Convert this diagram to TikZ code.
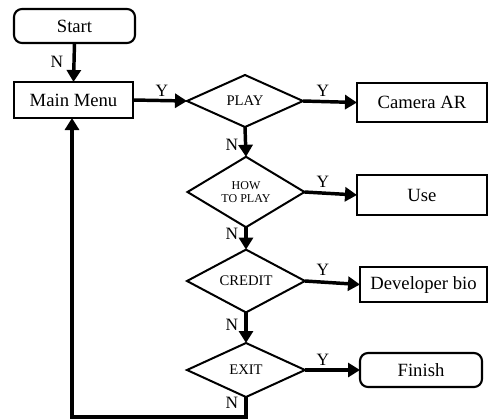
\documentclass[tikz,border=0pt]{standalone}
\usepackage{fontspec}
\setmainfont{Liberation Serif}
\usetikzlibrary{shapes.geometric,arrows.meta}
\begin{document}
\begin{tikzpicture}[x=0.75pt,y=-0.75pt,
  box/.style={draw,line width=1.6pt,inner sep=0pt,outer sep=0pt,font=\fontsize{14}{16}\selectfont},
  roundbox/.style={box,rounded corners=6pt},
  decision/.style={draw,diamond,line width=1.5pt,inner sep=0pt,outer sep=0pt,font=\fontsize{11}{12}\selectfont},
  arr/.style={line width=2.6pt,-{Triangle[length=9pt,width=10.5pt]}},
  lbl/.style={font=\fontsize{13}{14}\selectfont,inner sep=0pt}]
\useasboundingbox (0,0) rectangle (488,419);

% process and terminal boxes
\node[roundbox,minimum width=90.75pt,minimum height=25.5pt] (start) at (74.5,26) {\raisebox{-4pt}{Start}};
\node[box,line width=2.2pt,minimum width=89.25pt,minimum height=27pt] (main) at (73.5,100) {Main Menu};
\node[box,minimum width=97.5pt,minimum height=29pt] (cam) at (422,102.5) {Camera AR};
\node[box,minimum width=97.5pt,minimum height=30pt] (use) at (422,195) {Use};
\node[box,minimum width=95.25pt,minimum height=26.25pt] (dev) at (423.5,284.5) {Developer bio};
\node[roundbox,minimum width=91.5pt,minimum height=25.5pt] (finish) at (421,370) {Finish};

% decisions
\node[decision,minimum width=87pt,minimum height=39pt] (play) at (245,101) {PLAY};
\node[decision,minimum width=87.75pt,minimum height=37.5pt,font=\fontsize{9}{10}\selectfont,align=center] (how) at (246,192) {HOW\\TO PLAY};
\node[decision,minimum width=88.5pt,minimum height=39pt] (credit) at (246,281) {CREDIT};
\node[decision,minimum width=88.5pt,minimum height=40.5pt] (exit) at (246,370) {EXIT};

% return path
\coordinate (c1) at (246,417);
\coordinate (c2) at (72,417);

% connectors
\draw[arr] (start.south) -- (main.north);
\draw[arr] (main.east) -- (play.west);
\draw[arr] (play.east) -- (cam.west);
\draw[arr] (play.south) -- (how.north);
\draw[arr] (how.east) -- (use.west);
\draw[arr] (how.south) -- (credit.north);
\draw[arr] (credit.east) -- (dev.west);
\draw[arr] (credit.south) -- (exit.north);
\draw[arr] (exit.east) -- (finish.west);
\draw[arr,line join=miter] (exit.south) -- (c1) -- (c2) -- (c2 |- main.south);

% branch labels
\node[lbl] (n0) at (57,62) {N};
\node[lbl] (y0) at (162,91) {Y};
\node[lbl] (y1) at (323,91) {Y};
\node[lbl] (n1) at (232,145) {N};
\node[lbl] (y2) at (323,182) {Y};
\node[lbl] (n2) at (232,234) {N};
\node[lbl] (y3) at (323,270) {Y};
\node[lbl] (n3) at (232,325) {N};
\node[lbl] (y4) at (323,360) {Y};
\node[lbl] (n4) at (232,403) {N};
\end{tikzpicture}
\end{document}
